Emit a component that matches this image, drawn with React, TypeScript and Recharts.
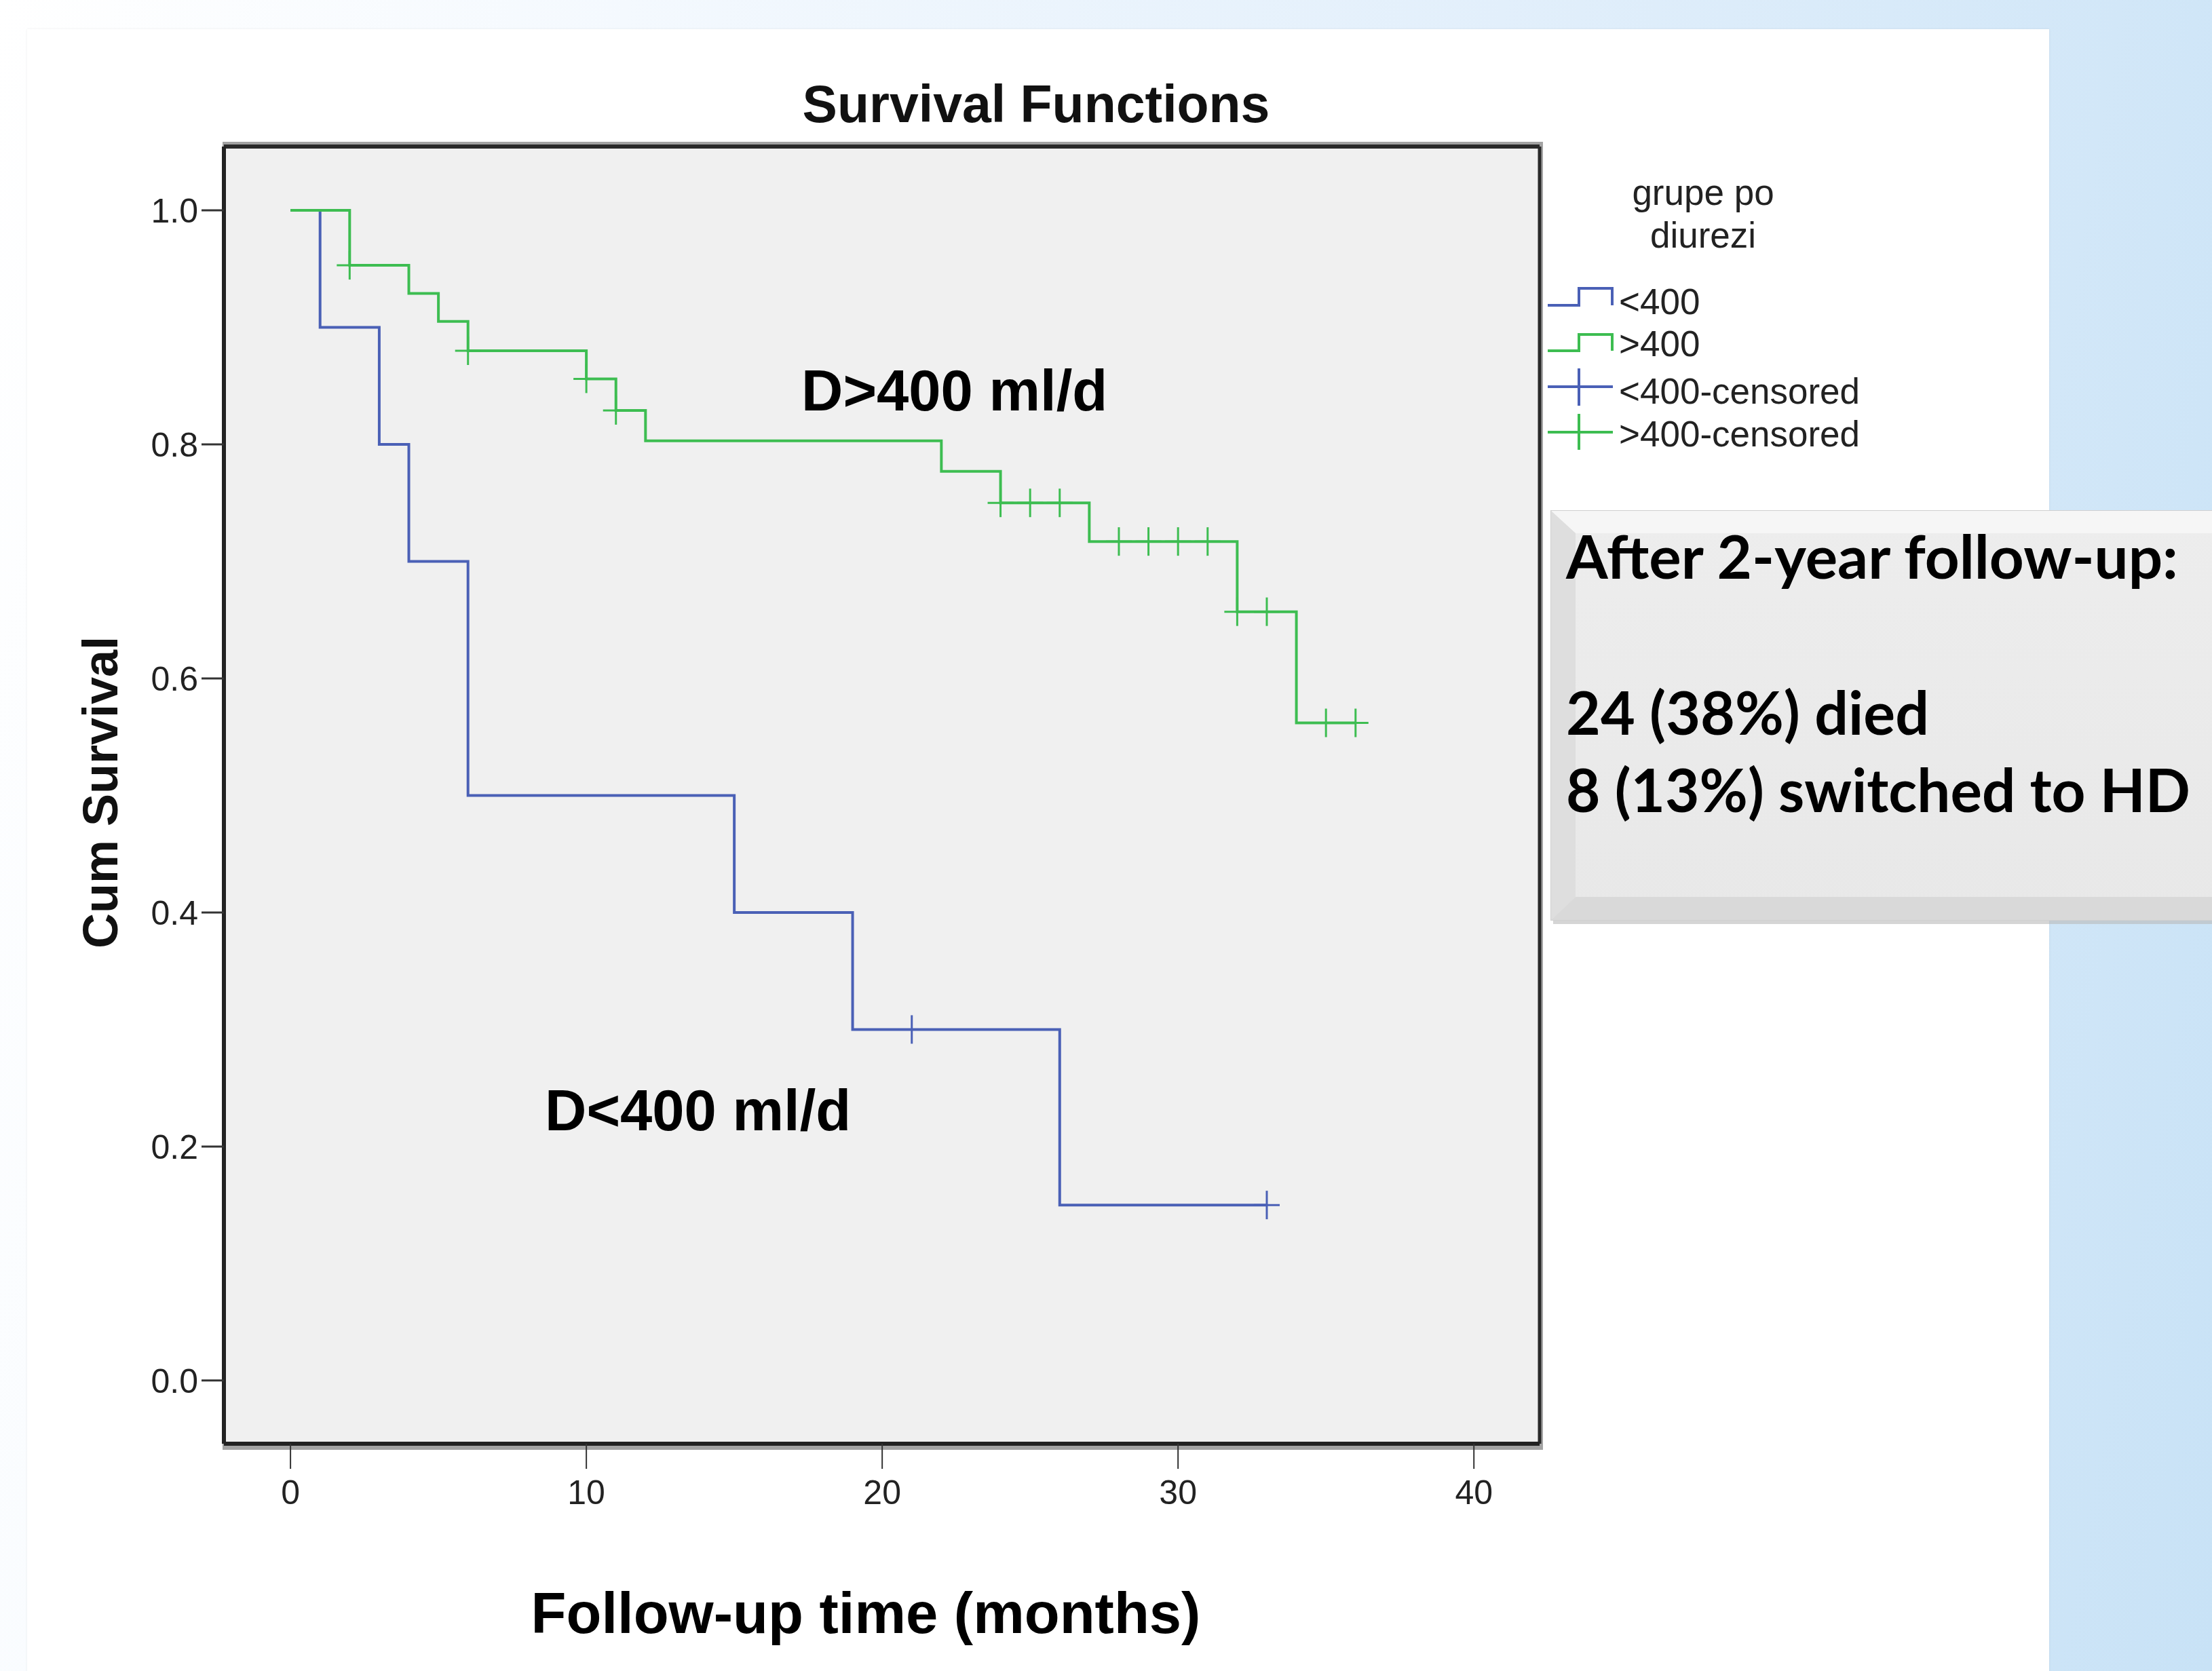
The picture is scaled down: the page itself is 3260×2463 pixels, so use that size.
import React from 'react';
import { ComposedChart, Line, Scatter, XAxis, YAxis, CartesianGrid, ReferenceLine } from 'recharts';

// group D<400 ml/d
const lowTime = [0, 1, 3, 4, 6, 15, 19, 26, 33];
const lowSurv = [1.0, 0.9, 0.8, 0.7, 0.5, 0.4, 0.3, 0.15, 0.15];
const lowCensTime = [21, 33];
const lowCensSurv = [0.3, 0.15];

// group D>400 ml/d
const highTime = [0, 2, 4, 5, 6, 10, 11, 12, 22, 24, 27, 32, 34, 36];
const highSurv = [1.0, 0.953, 0.929, 0.905, 0.88, 0.856, 0.829, 0.803, 0.777, 0.75, 0.717, 0.657, 0.562, 0.562];
const highCensTime = [2, 6, 10, 11, 24, 25, 26, 28, 29, 30, 31, 32, 33, 35, 36];
const highCensSurv = [0.953, 0.88, 0.856, 0.829, 0.75, 0.75, 0.75, 0.717, 0.717, 0.717, 0.717, 0.657, 0.657, 0.562, 0.562];

const xTicks = [0, 10, 20, 30, 40];
const yTicks = [0, 0.2, 0.4, 0.6, 0.8, 1.0];
const legendTitle = ['grupe po', 'diurezi'];
const legendLabels = ['<400', '>400', '<400-censored', '>400-censored'];
const boxLines = ['After 2-year follow-up:', '24 (38%) died', '8 (13%) switched to HD'];

const BLUE = '#4a60b6';
const GREEN = '#3dbd51';
const X_DOMAIN: [number, number] = [-2.25, 42.22];
const Y_DOMAIN: [number, number] = [-0.054, 1.0545];
const SANS = '"Liberation Sans", Arial, sans-serif';

const toPoints = (t: number[], s: number[]) => t.map((v, i) => ({ t: v, s: s[i] }));

const lowData = toPoints(lowTime, lowSurv);
const highData = toPoints(highTime, highSurv);
const lowCens = toPoints(lowCensTime, lowCensSurv);
const highCens = toPoints(highCensTime, highCensSurv);

const censorShape = (color: string) => (props: any) => {
  const { cx, cy } = props;
  return (
    <g stroke={color} strokeWidth={3}>
      <line x1={cx - 19} y1={cy} x2={cx + 19} y2={cy} />
      <line x1={cx} y1={cy - 21} x2={cx} y2={cy + 21} />
    </g>
  );
};

const Overlay = () => (
  <svg width={3260} height={2463} style={{ position: 'absolute', left: 0, top: 0, pointerEvents: 'none' }}>
    <defs>
      <linearGradient id="boxFace" x1="0" y1="0" x2="0" y2="1">
        <stop offset="0%" stopColor="#ededed" />
        <stop offset="100%" stopColor="#e8e8e8" />
      </linearGradient>
    </defs>

    {/* titles */}
    <text x={1527} y={180} textAnchor="middle" fontFamily={SANS} fontWeight="bold" fontSize={77} fill="#111">
      Survival Functions
    </text>
    <text transform="translate(173,1168) rotate(-90)" textAnchor="middle" fontFamily={SANS} fontWeight="bold" fontSize={72} fill="#111">
      Cum Survival
    </text>
    <text x={1276} y={2407} textAnchor="middle" fontFamily={SANS} fontWeight="bold" fontSize={85} fill="#000">
      Follow-up time (months)
    </text>

    {/* group annotations */}
    <text x={1181} y={605} fontFamily={SANS} fontWeight="bold" fontSize={85} fill="#000">D&gt;400 ml/d</text>
    <text x={803} y={1666} fontFamily={SANS} fontWeight="bold" fontSize={85} fill="#000">D&lt;400 ml/d</text>

    {/* legend */}
    <g fontFamily={SANS} fontSize={53} fill="#222">
      <text x={2510} y={302} textAnchor="middle">{legendTitle[0]}</text>
      <text x={2510} y={365} textAnchor="middle">{legendTitle[1]}</text>
      <path d="M2281,450 H2327 V425 H2376 V450" fill="none" stroke={BLUE} strokeWidth={4} />
      <text x={2386} y={463}>{legendLabels[0]}</text>
      <path d="M2281,517 H2327 V493 H2376 V517" fill="none" stroke={GREEN} strokeWidth={4} />
      <text x={2386} y={525}>{legendLabels[1]}</text>
      <g stroke={BLUE} strokeWidth={4}>
        <line x1={2281} y1={570} x2={2377} y2={570} />
        <line x1={2327} y1={543} x2={2327} y2={598} />
      </g>
      <text x={2386} y={595}>{legendLabels[2]}</text>
      <g stroke={GREEN} strokeWidth={4}>
        <line x1={2281} y1={637} x2={2377} y2={637} />
        <line x1={2327} y1={610} x2={2327} y2={663} />
      </g>
      <text x={2386} y={658}>{legendLabels[3]}</text>
    </g>

    {/* note box with bevel */}
    <rect x={2289} y={758} width={1000} height={604} fill="#b9b9b9" opacity={0.6} />
    <rect x={2286} y={753} width={1000} height={603} fill="url(#boxFace)" stroke="#d0d0d0" strokeWidth={2} />
    <polygon points="2286,753 3286,753 3286,786 2322,786" fill="#f6f6f6" />
    <polygon points="2286,753 2322,786 2322,1322 2286,1356" fill="#dedede" />
    <polygon points="2286,1356 2322,1322 3286,1322 3286,1356" fill="#d9d9d9" />
    <g fontFamily='Lato, "Open Sans", sans-serif' fontWeight="bold" fontSize={88} fill="#000">
      <text x={2308} y={853} textLength={902} lengthAdjust="spacingAndGlyphs">{boxLines[0]}</text>
      <text x={2308} y={1083} textLength={535} lengthAdjust="spacingAndGlyphs">{boxLines[1]}</text>
      <text x={2308} y={1197} textLength={920} lengthAdjust="spacingAndGlyphs">{boxLines[2]}</text>
    </g>
  </svg>
);

export default function App() {
  return (
    <div
      style={{
        position: 'absolute',
        left: 0,
        top: 0,
        width: 3260,
        height: 2463,
        overflow: 'hidden',
        background: 'linear-gradient(100deg, #ffffff 0%, #f4f9fe 25%, #e2effb 60%, #c8e2f6 100%)',
      }}
    >
      {/* white slide panel */}
      <div style={{ position: 'absolute', left: 40, top: 43, width: 2980, height: 2430, background: '#fff', boxShadow: '0 0 3px rgba(0,0,0,0.08)' }} />
      {/* shadow band around the plot frame */}
      <div style={{ position: 'absolute', left: 328, top: 209, width: 1946, height: 1928, background: '#a3a3a3' }} />

      <div style={{ position: 'absolute', left: 0, top: 0 }}>
        <ComposedChart width={3260} height={2463} margin={{ top: 216, right: 991, bottom: 235, left: 210 }}>
          <CartesianGrid horizontal={false} vertical={false} fill="#f0f0f0" />
          <XAxis
            dataKey="t"
            type="number"
            domain={X_DOMAIN}
            ticks={xTicks}
            allowDataOverflow
            height={100}
            tickSize={37}
            tickMargin={16}
            axisLine={{ stroke: '#222', strokeWidth: 6 }}
            tickLine={{ stroke: '#333', strokeWidth: 2 }}
            tick={{ fontSize: 50, fill: '#222', fontFamily: SANS }}
          />
          <YAxis
            dataKey="s"
            type="number"
            domain={Y_DOMAIN}
            ticks={yTicks}
            allowDataOverflow
            width={120}
            tickSize={33}
            tickMargin={5}
            tickFormatter={(v: number) => v.toFixed(1)}
            axisLine={{ stroke: '#222', strokeWidth: 6 }}
            tickLine={{ stroke: '#333', strokeWidth: 3 }}
            tick={{ fontSize: 50, fill: '#222', fontFamily: SANS }}
          />
          {/* top and right edges of the plot frame */}
          <ReferenceLine y={Y_DOMAIN[1]} stroke="#2a2a2a" strokeWidth={6} />
          <ReferenceLine x={X_DOMAIN[1]} stroke="#2a2a2a" strokeWidth={5} />
          <Line
            data={lowData}
            dataKey="s"
            type="stepAfter"
            stroke={BLUE}
            strokeWidth={4}
            dot={false}
            isAnimationActive={false}
          />
          <Line
            data={highData}
            dataKey="s"
            type="stepAfter"
            stroke={GREEN}
            strokeWidth={4}
            dot={false}
            isAnimationActive={false}
          />
          <Scatter data={lowCens} dataKey="s" shape={censorShape(BLUE)} isAnimationActive={false} />
          <Scatter data={highCens} dataKey="s" shape={censorShape(GREEN)} isAnimationActive={false} />
        </ComposedChart>
      </div>

      <Overlay />
    </div>
  );
}
